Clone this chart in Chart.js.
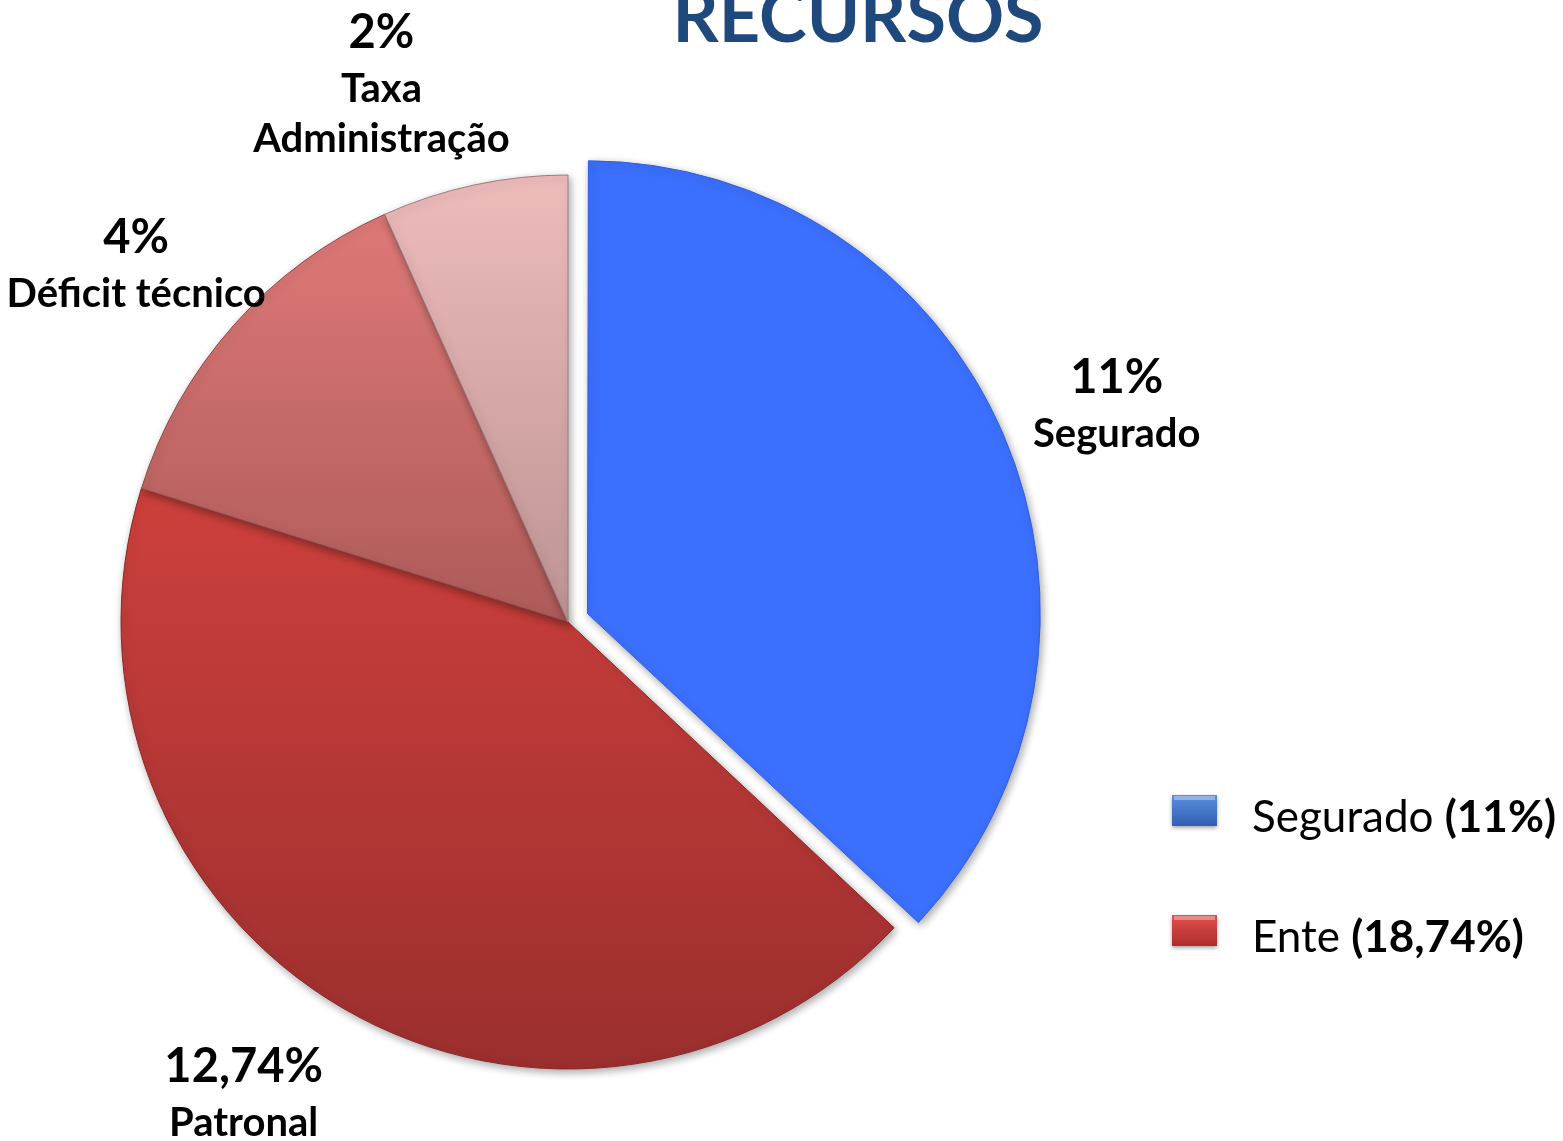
<!DOCTYPE html>
<html lang="pt-BR">
<head>
    <meta charset="UTF-8">
    <title>Recursos</title>
    <script src="https://cdn.jsdelivr.net/npm/chart.js"></script>
    <style>
        body, html {
            margin: 0;
            padding: 0;
            background: #fff;
            overflow: hidden;
        }
        #wrap {
            width: 1563px;
            height: 1141px;
        }
    </style>
</head>
<body>
    <div id="wrap"><canvas id="recursosChart"></canvas></div>

    <script>
        const chartTitle = 'RECURSOS';
        const sliceNames = [['Segurado'], ['Patronal'], ['Déficit técnico'], ['Taxa', 'Administração']];
        const sliceValues = [11, 12.74, 4, 2];
        const legendNames = ['Segurado', 'Ente'];
        const legendValues = [11, 18.74];

        const fmt = v => String(v).replace('.', ',') + '%';
        const FONT = 'Lato, "Open Sans", sans-serif';

        // top / bottom of the vertical gradient over the whole chart area
        const sliceColors = [
            ['#3b6ffd', '#3b6ffd'],
            ['#ed4b45', '#972d2d'],
            ['#e87f7d', '#733735'],
            ['#f3bfbf', '#876868']
        ];
        const sliceBorders = ['#2f5fe0', '#8a2828', '#8c4a48', '#9e7c7c'];
        const legendColors = [['#5b8fe0', '#2f5fb0'], ['#e0504c', '#b02c2a']];

        function sliceFill(context) {
            const chart = context.chart;
            const area = chart.chartArea;
            const c = sliceColors[context.dataIndex];
            if (!area) return c[0];
            const g = chart.ctx.createLinearGradient(0, area.top, 0, area.bottom);
            g.addColorStop(0, c[0]);
            g.addColorStop(1, c[1]);
            return g;
        }

        // soft shadow under the pie
        const shadowPlugin = {
            id: 'pieShadow',
            beforeDatasetsDraw(chart) {
                const ctx = chart.ctx;
                ctx.save();
                ctx.shadowColor = 'rgba(0,0,0,0.35)';
                ctx.shadowBlur = 8;
                ctx.shadowOffsetX = 2;
                ctx.shadowOffsetY = 3;
            },
            afterDatasetsDraw(chart) {
                chart.ctx.restore();
            }
        };

        // [angle shift in degrees, radius factor] for each slice label
        const labelPlace = [[0.8, 1.33], [4.9, 1.26], [-1.1, 1.27], [-5.9, 1.35]];

        const textPlugin = {
            id: 'recursosText',
            afterDraw(chart) {
                const ctx = chart.ctx;
                const meta = chart.getDatasetMeta(0);
                ctx.save();
                ctx.fillStyle = '#000';
                ctx.textAlign = 'center';
                ctx.textBaseline = 'alphabetic';

                meta.data.forEach((arc, i) => {
                    const mid = (arc.startAngle + arc.endAngle) / 2 + labelPlace[i][0] * Math.PI / 180;
                    const r = arc.outerRadius * labelPlace[i][1];
                    const x = arc.x + Math.cos(mid) * r;
                    let y = arc.y + Math.sin(mid) * r;
                    ctx.font = 'bold 47px ' + FONT;
                    ctx.fillText(fmt(sliceValues[i]), x, y);
                    ctx.font = 'bold 40px ' + FONT;
                    sliceNames[i].forEach((line, j) => {
                        y += j === 0 ? 54 : 50;
                        ctx.fillText(line, x, y);
                    });
                });

                // title, partly cut by the top edge
                ctx.fillStyle = '#1f497d';
                ctx.font = 'bold 72px ' + FONT;
                ctx.fillText(chartTitle, 858, 42);

                // legend
                legendNames.forEach((name, i) => {
                    const bx = 1172, by = 795 + i * 120;
                    const g = ctx.createLinearGradient(0, by, 0, by + 31);
                    g.addColorStop(0, legendColors[i][0]);
                    g.addColorStop(1, legendColors[i][1]);
                    ctx.save();
                    ctx.shadowColor = 'rgba(0,0,0,0.35)';
                    ctx.shadowBlur = 4;
                    ctx.shadowOffsetY = 2;
                    ctx.fillStyle = g;
                    ctx.fillRect(bx, by, 45, 31);
                    ctx.restore();
                    ctx.fillStyle = 'rgba(255,255,255,0.35)';
                    ctx.fillRect(bx + 2, by + 1, 41, 4);

                    ctx.fillStyle = '#000';
                    ctx.textAlign = 'left';
                    const tx = 1252, ty = by + 37;
                    ctx.font = '44px ' + FONT;
                    const part = name + ' ';
                    ctx.fillText(part, tx, ty);
                    const w = ctx.measureText(part).width;
                    ctx.font = 'bold 44px ' + FONT;
                    ctx.fillText('(' + fmt(legendValues[i]) + ')', tx + w, ty);
                });
                ctx.restore();
            }
        };

        const ctx = document.getElementById('recursosChart').getContext('2d');
        new Chart(ctx, {
            type: 'pie',
            data: {
                labels: sliceNames.map(n => n.join(' ')),
                datasets: [{
                    data: sliceValues,
                    backgroundColor: sliceFill,
                    borderColor: sliceBorders,
                    borderWidth: 1,
                    offset: [85, 0, 0, 0]
                }]
            },
            options: {
                responsive: true,
                maintainAspectRatio: false,
                animation: false,
                layout: { padding: { left: 78, right: 505, top: 132, bottom: 29 } },
                plugins: {
                    legend: { display: false },
                    tooltip: { enabled: false },
                    title: { display: false }
                }
            },
            plugins: [shadowPlugin, textPlugin]
        });
    </script>
</body>
</html>
